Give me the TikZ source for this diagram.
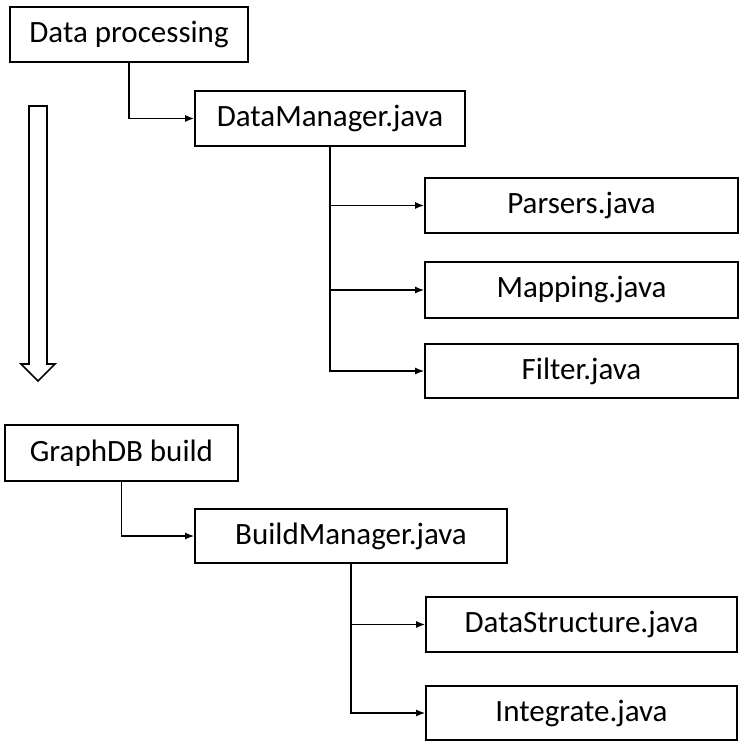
\documentclass[tikz,border=0pt]{standalone}
\usepackage{fontspec}
\setmainfont{Carlito}
\usetikzlibrary{arrows.meta}
\tikzstyle{arrow} = [->,>={Latex[length=4.5pt,width=3.5pt]},line width=0.7pt]
\tikzstyle{box} = [draw,line width=0.9pt,inner sep=0pt,font=\fontsize{15.5}{18}\selectfont]

\begin{document}
\begin{tikzpicture}[x=0.5pt,y=-0.5pt]
\useasboundingbox (0,0) rectangle (744,747);

\node (proc) [box,minimum width=119pt,minimum height=27.5pt] at (129,34.5) {Data processing};
\node (dman) [box,minimum width=135pt,minimum height=27.5pt] at (330,118.5) {DataManager.java};
\node (pars) [box,minimum width=156.5pt,minimum height=27.5pt] at (581.5,205.5) {Parsers.java};
\node (mapp) [box,minimum width=156.5pt,minimum height=28pt] at (581.5,290) {Mapping.java};
\node (filt) [box,minimum width=156.5pt,minimum height=27pt] at (581.5,371) {Filter.java};
\draw [arrow] (proc.south) |- (dman.west);
\draw [arrow] (dman.south) |- (pars.west);
\draw [arrow] (dman.south) |- (mapp.west);
\draw [arrow] (dman.south) |- (filt.west);

\draw [line width=0.8pt] (29,106) -- (47,106) -- (47,364) -- (55,364) -- (38,381)
  -- (21,364) -- (29,364) -- cycle;

\node (grdb) [box,minimum width=116.5pt,minimum height=28pt] at (121.5,453) {GraphDB build};
\node (bman) [box,minimum width=156pt,minimum height=27pt] at (351,536) {BuildManager.java};
\node (dstr) [box,minimum width=155.5pt,minimum height=27.5pt] at (581.5,624.5) {DataStructure.java};
\node (intg) [box,minimum width=155.5pt,minimum height=27pt] at (581.5,713) {Integrate.java};
\draw [arrow] (grdb.south) |- (bman.west);
\draw [arrow] (bman.south) |- (dstr.west);
\draw [arrow] (bman.south) |- (intg.west);

\end{tikzpicture}
\end{document}
